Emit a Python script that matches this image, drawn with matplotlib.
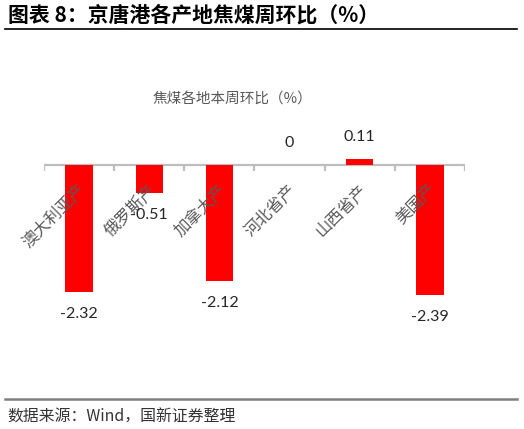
import matplotlib
matplotlib.use("Agg")
import matplotlib.pyplot as plt
from matplotlib.lines import Line2D

plt.rcParams['font.family'] = ['Noto Sans CJK SC', 'DejaVu Sans']

categories = ['澳大利亚产', '俄罗斯产', '加拿大产', '河北省产', '山西省产', '美国产']
values = [-2.32, -0.51, -2.12, 0, 0.11, -2.39]
value_labels = ['-2.32', '-0.51', '-2.12', '0', '0.11', '-2.39']
fig_title = '图表 8：京唐港各产地焦煤周环比（%）'
chart_title = '焦煤各地本周环比（%）'
source = '数据来源：Wind，国新证券整理'

W, H, DPI = 524, 429, 100
fig = plt.figure(figsize=(W / DPI, H / DPI), dpi=DPI)

# axes: x from 44 to 465 px, y from 120 to 340 px (zero at 165 px)
ax = fig.add_axes([44 / W, (H - 340) / H, 421 / W, 220 / H])
ax.set_xlim(-0.5, len(categories) - 0.5)
ax.set_ylim(-(340 - 165) / 54.6, (165 - 120) / 54.6)

x = list(range(len(categories)))
ax.bar(x, values, width=0.39, color='#ff0000', zorder=3)

for k in ['top', 'left', 'right', 'bottom']:
    ax.spines[k].set_visible(False)
ax.set_yticks([])
ax.set_xticks([])
# category axis line at zero with boundary tick marks
axis_color = '#bdbdbd'
ax.axhline(0, color=axis_color, lw=1.6, zorder=2)
for b in range(len(categories) + 1):
    ax.plot([b - 0.5, b - 0.5], [0, -6 / 54.6], color=axis_color, lw=1.6,
            zorder=2, solid_capstyle='butt')

for i, (v, lab) in enumerate(zip(values, value_labels)):
    off = -22 if v < 0 else 22
    ax.annotate(lab, xy=(i, v), xytext=(0, off), textcoords='offset pixels',
                ha='center', va='center', fontsize=11.5, color='#262626',
                family=['Lato', 'DejaVu Sans'], zorder=5)

for i, cat in enumerate(categories):
    ax.annotate(cat, xy=(i, 0), xytext=(4, -22), textcoords='offset pixels',
                ha='right', va='center', rotation=45, rotation_mode='anchor',
                fontsize=11.8, color='#595959', zorder=4)

fig.text(232 / W, 1 - 100 / H, chart_title, ha='center', va='center',
         fontsize=10.5, color='#595959')

fig.text(8 / W, 1 - 15 / H, fig_title, ha='left', va='center',
         fontsize=15, fontweight='bold', color='#000000')
fig.add_artist(Line2D([5 / W, 517 / W], [1 - 29 / H, 1 - 29 / H],
                      transform=fig.transFigure, color='#000000', lw=1.2))

fig.add_artist(Line2D([5 / W, 517 / W], [1 - 399 / H, 1 - 399 / H],
                      transform=fig.transFigure, color='#808080', lw=1.8))
fig.text(7 / W, 1 - 417 / H, source, ha='left', va='center',
         fontsize=11.4, color='#333333')

fig.savefig('out.png', dpi=DPI)
